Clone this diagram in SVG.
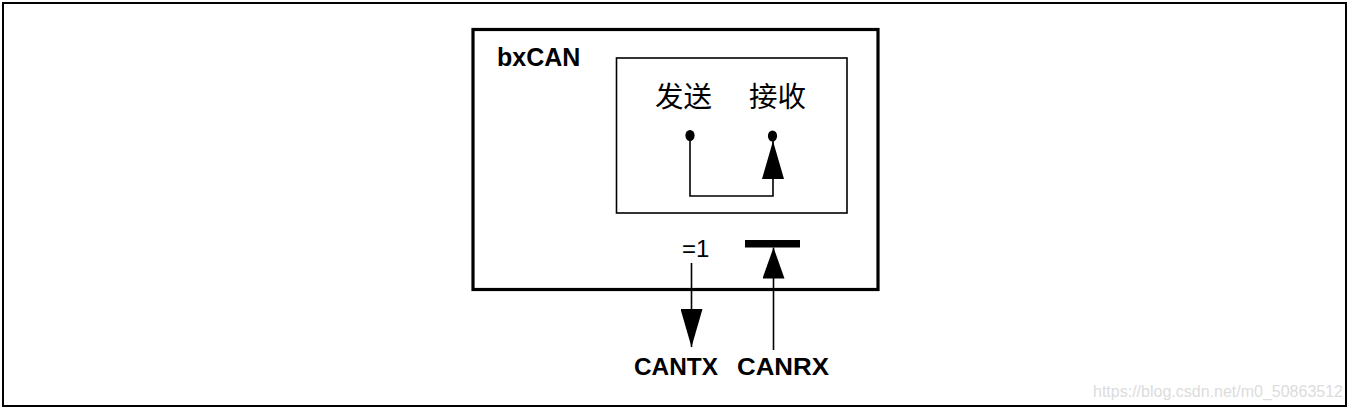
<svg xmlns="http://www.w3.org/2000/svg" width="1352" height="410" viewBox="0 0 1352 410">
<style>
.b{font-family:"Liberation Sans",Arial,sans-serif;font-weight:bold;fill:#000}
.r{font-family:"Liberation Sans",Arial,sans-serif;fill:#000}
.c{font-family:"Noto Sans CJK SC",sans-serif;fill:#000}
.ln{stroke:#000;stroke-width:1.6;fill:none}
</style>
<defs>
<marker id="ah" viewBox="0 0 38 22" refX="38" refY="11" markerWidth="38" markerHeight="22" markerUnits="userSpaceOnUse" orient="auto">
<path d="M0,0 L38,11 L0,22 z" fill="#000"/>
</marker>
<marker id="ahs" viewBox="0 0 31 22" refX="31" refY="11" markerWidth="31" markerHeight="22" markerUnits="userSpaceOnUse" orient="auto">
<path d="M0,0 L31,11 L0,22 z" fill="#000"/>
</marker>
</defs>
<rect x="0" y="0" width="1352" height="410" fill="#fff"/>
<rect x="3" y="3" width="1343" height="403" fill="none" stroke="#000" stroke-width="2"/>
<g id="bxcan">
<rect x="473" y="29.5" width="405" height="260" fill="none" stroke="#000" stroke-width="3.2"/>
<text class="b" x="497" y="66" font-size="25">bxCAN</text>
</g>
<g id="loop">
<rect x="616.5" y="58" width="230.5" height="155" fill="none" stroke="#000" stroke-width="1.6"/>
<text class="c" x="655" y="107" font-size="28.5">发送</text>
<text class="c" x="749" y="107" font-size="28.5">接收</text>
<ellipse cx="690" cy="135.5" rx="4.6" ry="5.6" fill="#000"/>
<ellipse cx="772.5" cy="136" rx="4.6" ry="5.6" fill="#000"/>
</g>
<g id="tx">
<text class="r" x="682" y="257" font-size="24">=1</text>
</g>
<g id="rx">
<rect x="745" y="240" width="55" height="7.5" fill="#000"/>
</g>
<g id="pins">
<text class="b" x="634" y="375" font-size="24" textLength="84" lengthAdjust="spacingAndGlyphs">CANTX</text>
<text class="b" x="737" y="375" font-size="24" textLength="92" lengthAdjust="spacingAndGlyphs">CANRX</text>
</g>
<g id="connectors">
<polyline class="ln" points="690,136 690,196 773,196 773,141" marker-end="url(#ah)"/>
<line class="ln" x1="691.5" y1="263" x2="691.5" y2="347" marker-end="url(#ah)"/>
<line class="ln" x1="773.5" y1="350" x2="773.5" y2="247.5" marker-end="url(#ahs)"/>
</g>
<text class="r" x="1093" y="397" font-size="16" style="fill:#dcdcdc" textLength="250" lengthAdjust="spacingAndGlyphs">https://blog.csdn.net/m0_50863512</text>
</svg>
